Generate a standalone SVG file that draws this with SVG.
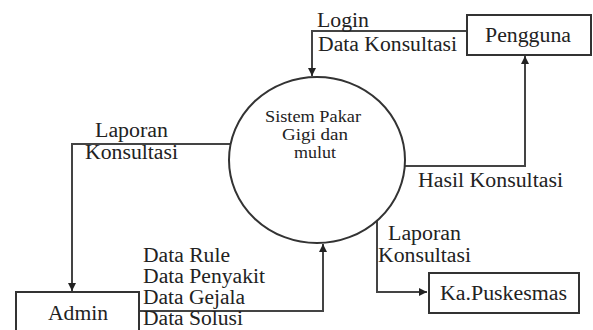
<svg xmlns="http://www.w3.org/2000/svg" width="593" height="330" viewBox="0 0 593 330">
<style>
text{font-family:"Liberation Serif","DejaVu Serif",serif;font-size:20px;fill:#222}
.c{font-size:17px;text-anchor:middle}
.box{fill:#fff;stroke:#333;stroke-width:2}
.ln{fill:none;stroke:#444;stroke-width:2}
</style>
<defs>
<marker id="ah" viewBox="0 0 10 10" refX="10" refY="5" markerWidth="8" markerHeight="8" markerUnits="userSpaceOnUse" orient="auto">
<path d="M0,0 L10,5 L0,10 z" fill="#222"/>
</marker>
</defs>
<rect width="593" height="330" fill="#fff"/>
<g id="connectors">
<path class="ln" d="M467,31 H312 V76" marker-end="url(#ah)"/>
<path class="ln" d="M404,166 H525 V56" marker-end="url(#ah)"/>
<path class="ln" d="M230,144 H72 V291" marker-end="url(#ah)"/>
<path class="ln" d="M139,311 H323 V244" marker-end="url(#ah)"/>
<path class="ln" d="M377,221 V292 H427" marker-end="url(#ah)"/>
<text x="317" y="27" textLength="52" lengthAdjust="spacingAndGlyphs">Login</text>
<text x="318" y="51" textLength="139" lengthAdjust="spacingAndGlyphs">Data Konsultasi</text>
<text x="418" y="187" textLength="145" lengthAdjust="spacingAndGlyphs">Hasil Konsultasi</text>
<text x="95" y="137" textLength="73" lengthAdjust="spacingAndGlyphs">Laporan</text>
<text x="85" y="159" textLength="93" lengthAdjust="spacingAndGlyphs">Konsultasi</text>
<text x="143" y="262" textLength="87" lengthAdjust="spacingAndGlyphs">Data Rule</text>
<text x="143" y="283" textLength="122" lengthAdjust="spacingAndGlyphs">Data Penyakit</text>
<text x="143" y="304" textLength="102" lengthAdjust="spacingAndGlyphs">Data Gejala</text>
<text x="143" y="325" textLength="100" lengthAdjust="spacingAndGlyphs">Data Solusi</text>
<text x="388" y="240" textLength="73" lengthAdjust="spacingAndGlyphs">Laporan</text>
<text x="378" y="262" textLength="93" lengthAdjust="spacingAndGlyphs">Konsultasi</text>
</g>
<g id="sistem">
<ellipse cx="317" cy="160" rx="88" ry="83" fill="none" stroke="#333" stroke-width="2"/>
<text class="c" x="313" y="122" textLength="96" lengthAdjust="spacingAndGlyphs">Sistem Pakar</text>
<text class="c" x="315" y="140" textLength="66" lengthAdjust="spacingAndGlyphs">Gigi dan</text>
<text class="c" x="315" y="158" textLength="42" lengthAdjust="spacingAndGlyphs">mulut</text>
</g>
<g id="pengguna">
<rect class="box" x="467" y="15" width="124" height="40"/>
<text x="485" y="42" textLength="86" lengthAdjust="spacingAndGlyphs">Pengguna</text>
</g>
<g id="admin">
<rect class="box" x="16" y="292" width="123" height="60"/>
<text x="48" y="320" textLength="60" lengthAdjust="spacingAndGlyphs">Admin</text>
</g>
<g id="kapuskesmas">
<rect class="box" x="429" y="273" width="150" height="40"/>
<text x="440" y="300" textLength="127" lengthAdjust="spacingAndGlyphs">Ka.Puskesmas</text>
</g>
</svg>
